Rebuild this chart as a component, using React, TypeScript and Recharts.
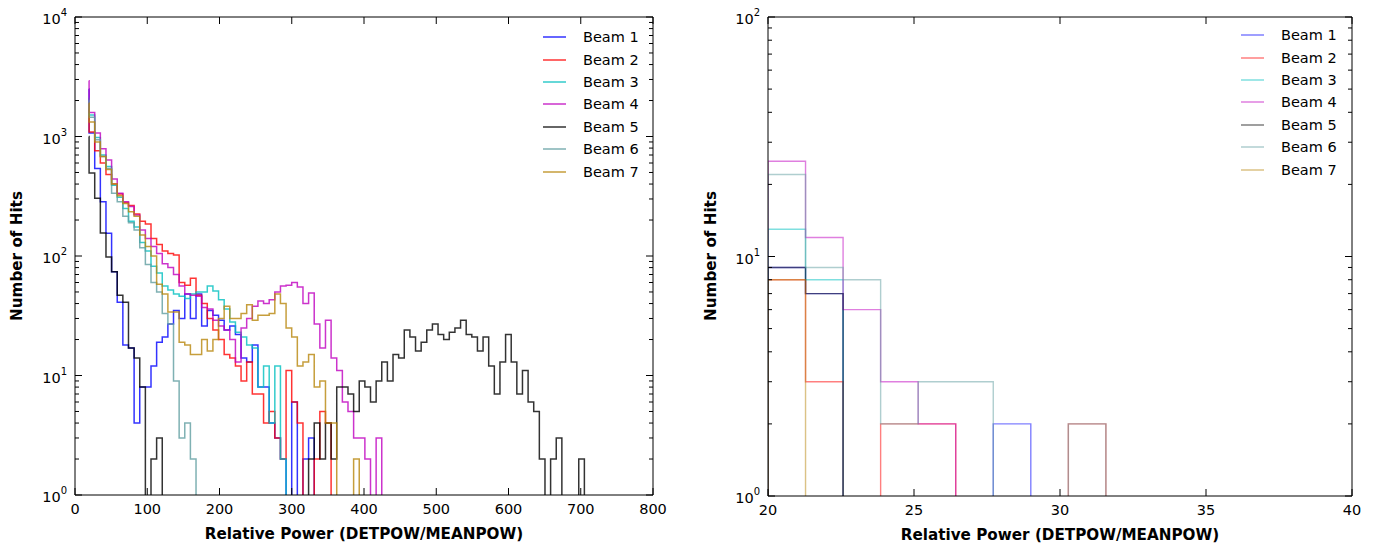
import React from 'react';
import { LineChart, Line, XAxis, YAxis, Legend } from 'recharts';

const FONT = '"DejaVu Sans", sans-serif';

const BEAMS = ['Beam 1', 'Beam 2', 'Beam 3', 'Beam 4', 'Beam 5', 'Beam 6', 'Beam 7'];
const COLORS = ['#0000ff', '#ff0000', '#00bfbf', '#bf00bf', '#000000', '#5f9ea0', '#b8860b'];

// ---- left panel: full range histogram ----
const LEFT_SPIKE_FROM = 19.1; // very narrow first bin
const LEFT_START = 19.5;
const LEFT_WIDTH = 7.79;
const LEFT_SPIKE = [2500, 1700, 2100, 2930, 1000, 2000, 1900];

const beam1 = [1070, 540, 285, 155, 74, 41, 18, 17, 4, 8, 8, 12, 19, 21, 27, 35, 30, 48, 30, 48,
  26, 35, 32, 29, 24, 26, 22, 14, 13, 18, 8, 8, 4, 3, 2, 0, 6, 0, 2, 3];
const beam2 = [1090, 760, 600, 480, 400, 330, 280, 265, 225, 195, 185, 140, 125, 110, 105, 102, 60, 57, 65, 47,
  40, 30, 24, 20, 15, 14, 12, 9, 13, 7, 7, 4, 5, 3, 2, 11, 6, 4, 0, 0, 2, 5, 4];
const beam3 = [1515, 980, 700, 560, 390, 310, 250, 195, 175, 130, 110, 82, 72, 56, 52, 48, 46, 44, 48, 50,
  50, 56, 51, 43, 36, 28, 23, 21, 18, 17, 8, 12, 4, 12, 2];
const beam4 = [1590, 1070, 790, 635, 440, 335, 285, 260, 220, 165, 140, 120, 105, 86, 80, 70, 56, 48, 47, 46,
  37, 36, 29, 26, 24, 20, 13, 25, 30, 38, 42, 40, 43, 50, 56, 57, 60, 55, 40, 49,
  27, 17, 29, 14, 11, 6, 5, 3, 3, 2, 0, 3];
const beam5 = [495, 304, 156, 98, 74, 47, 41, 17, 14, 8, 0, 2, 3, 0, 0, 0, 0, 0, 0, 0,
  0, 0, 0, 0, 0, 0, 0, 0, 0, 0, 0, 0, 0, 0, 0, 0, 0, 0, 0, 2,
  4, 2, 4, 2, 8, 8, 7, 5, 9, 8, 6, 9, 13, 9, 15, 14, 24, 21, 16, 19,
  24, 27, 22, 20, 23, 25, 29, 22, 21, 16, 21, 12, 7, 13, 22, 13, 7, 11, 6, 5,
  2, 0, 2, 3, 0, 0, 0, 2];
const beam6 = [1450, 940, 680, 540, 335, 285, 215, 190, 165, 117, 85, 60, 50, 33, 27, 9, 3, 4, 2];
const beam7 = [1325, 900, 680, 530, 400, 320, 275, 235, 215, 150, 120, 100, 58, 48, 34, 34, 19, 18, 15, 15,
  20, 16, 20, 30, 38, 30, 30, 33, 39, 29, 32, 32, 33, 48, 40, 25, 21, 12, 13, 15,
  8, 9, 4, 4, 0, 0, 0, 2];

const LEFT_X_TICKS = [0, 100, 200, 300, 400, 500, 600, 700, 800];
const LEFT_Y_TICKS = [1, 2, 3, 4, 5, 6, 7, 8, 9, 10, 20, 30, 40, 50, 60, 70, 80, 90,
  100, 200, 300, 400, 500, 600, 700, 800, 900, 1000, 2000, 3000, 4000, 5000, 6000, 7000, 8000, 9000, 10000];

// ---- right panel: low power range ----
const RIGHT_START = 20;
const RIGHT_WIDTH = 1.2857;

const low1 = [9, 7, 0, 0, 0, 0, 2];
const low2 = [8, 3, 0, 2, 2, 0, 0, 0, 2];
const low3 = [13, 8];
const low4 = [25, 12, 6, 3, 2];
const low5 = [9, 7];
const low6 = [22, 9, 8, 2, 3, 3, 0, 0, 2];
const low7 = [8];

const RIGHT_X_TICKS = [20, 25, 30, 35, 40];
const RIGHT_Y_TICKS = [1, 2, 3, 4, 5, 6, 7, 8, 9, 10, 20, 30, 40, 50, 60, 70, 80, 90, 100];

const FLOOR = 0.5; // empty bins fall below the log axis

function buildRows(series: number[][], start: number, width: number, spikeFrom?: number, spike?: number[]) {
  const keys = series.map((_, i) => `b${i + 1}`);
  const rows: any[] = [];
  if (spike && spikeFrom !== undefined) {
    const r: any = { x: spikeFrom };
    keys.forEach((k, i) => (r[k] = spike[i]));
    rows.push(r);
  } else {
    const first: any = { x: start };
    keys.forEach((k) => (first[k] = FLOOR));
    rows.push(first);
  }
  const n = Math.max(...series.map((s) => s.length));
  for (let j = 0; j <= n; j++) {
    const row: any = { x: start + j * width };
    series.forEach((s, i) => {
      if (j < s.length) row[keys[i]] = s[j] > 0 ? s[j] : FLOOR;
      else if (j === s.length) row[keys[i]] = FLOOR;
    });
    rows.push(row);
  }
  return rows;
}

const leftRows = buildRows([beam1, beam2, beam3, beam4, beam5, beam6, beam7], LEFT_START, LEFT_WIDTH, LEFT_SPIKE_FROM, LEFT_SPIKE);
const rightRows = buildRows([low1, low2, low3, low4, low5, low6, low7], RIGHT_START, RIGHT_WIDTH);

const isDecade = (v: number) => Math.abs(Math.log10(v) - Math.round(Math.log10(v))) < 1e-9;

const XTickBottom = ({ x, y, payload }: any) => (
  <g>
    <line x1={x} x2={x} y1={y} y2={y - 7} stroke="#000" />
    <text x={x} y={y + 19} textAnchor="middle" fontSize={14.5} fontFamily={FONT} fill="#000">
      {payload.value}
    </text>
  </g>
);

const XTickTop = ({ x, y }: any) => <line x1={x} x2={x} y1={y} y2={y + 7} stroke="#000" />;

const YTickLeft = ({ x, y, payload }: any) => {
  const major = isDecade(payload.value);
  return (
    <g>
      <line x1={x} x2={x + (major ? 7 : 4)} y1={y} y2={y} stroke="#000" />
      {major && (
        <text x={x - 8} y={y + 7} textAnchor="end" fontSize={14.5} fontFamily={FONT} fill="#000">
          <tspan>10</tspan>
          <tspan dy={-8} fontSize={10}>{Math.round(Math.log10(payload.value))}</tspan>
        </text>
      )}
    </g>
  );
};

const YTickRight = ({ x, y, payload }: any) => {
  const major = isDecade(payload.value);
  return <line x1={x} x2={x - (major ? 7 : 4)} y1={y} y2={y} stroke="#000" />;
};

const makeLegend = (opacity: number) => (props: any) => (
  <div style={{ fontFamily: FONT, fontSize: 14.5, color: '#000' }}>
    {(props.payload || []).map((entry: any) => (
      <div key={entry.value} style={{ height: 22.4, display: 'flex', alignItems: 'center' }}>
        <svg width={23} height={4}>
          <line x1={0} x2={23} y1={2} y2={2} stroke={entry.color} strokeOpacity={opacity} strokeWidth={1.5} />
        </svg>
        <span style={{ marginLeft: 17, whiteSpace: 'nowrap' }}>{entry.value}</span>
      </div>
    ))}
  </div>
);

interface PanelProps {
  rows: any[];
  width: number;
  height: number;
  margin: { top: number; right: number; bottom: number; left: number };
  yWidth: number;
  xHeight: number;
  xDomain: [number, number];
  xTicks: number[];
  yDomain: [number, number];
  yTicks: number[];
  opacity: number;
  strokeWidth: number;
  legendLeft: number;
  legendTop: number;
}

function HistPanel(p: PanelProps) {
  return (
    <LineChart width={p.width} height={p.height} data={p.rows} margin={p.margin}>
      <XAxis xAxisId="bottom" dataKey="x" type="number" domain={p.xDomain} ticks={p.xTicks}
        allowDataOverflow interval={0} tickSize={0} tickMargin={0} tick={XTickBottom}
        tickLine={false} axisLine={{ stroke: '#000' }} height={p.xHeight} />
      <XAxis xAxisId="top" orientation="top" dataKey="x" type="number" domain={p.xDomain} ticks={p.xTicks}
        allowDataOverflow interval={0} tickSize={0} tickMargin={0} tick={XTickTop}
        tickLine={false} axisLine={{ stroke: '#000' }} height={1} />
      <YAxis yAxisId="left" type="number" scale="log" domain={p.yDomain} ticks={p.yTicks}
        allowDataOverflow interval={0} tickSize={0} tickMargin={0} tick={YTickLeft}
        tickLine={false} axisLine={{ stroke: '#000' }} width={p.yWidth} />
      <YAxis yAxisId="right" orientation="right" type="number" scale="log" domain={p.yDomain} ticks={p.yTicks}
        allowDataOverflow interval={0} tickSize={0} tickMargin={0} tick={YTickRight}
        tickLine={false} axisLine={{ stroke: '#000' }} width={1} />
      <Legend layout="vertical" align="center" verticalAlign="middle"
        wrapperStyle={{ left: p.legendLeft, top: p.legendTop, width: 'auto' }}
        content={makeLegend(p.opacity)} />
      {BEAMS.map((name, i) => (
        <Line key={name} xAxisId="bottom" yAxisId="left" type="stepAfter" dataKey={`b${i + 1}`} name={name}
          stroke={COLORS[i]} strokeOpacity={p.opacity} strokeWidth={p.strokeWidth}
          dot={false} activeDot={false} isAnimationActive={false} />
      ))}
    </LineChart>
  );
}

const titleStyle: React.CSSProperties = {
  position: 'absolute',
  fontFamily: FONT,
  fontWeight: 'bold',
  fontSize: 15.2,
  whiteSpace: 'nowrap',
  color: '#000',
};

export default function App() {
  return (
    <div style={{ position: 'absolute', left: 0, top: 0, width: 1385, height: 547, background: '#fff' }}>
      <div style={{ position: 'absolute', left: 0, top: 0 }}>
        <HistPanel rows={leftRows} width={700} height={547}
          margin={{ top: 16, right: 46, bottom: 0, left: 0 }} yWidth={75} xHeight={52}
          xDomain={[0, 800]} xTicks={LEFT_X_TICKS} yDomain={[1, 10000]} yTicks={LEFT_Y_TICKS}
          opacity={0.8} strokeWidth={1.5} legendLeft={543} legendTop={26} />
      </div>
      <div style={{ position: 'absolute', left: 700, top: 0 }}>
        <HistPanel rows={rightRows} width={685} height={547}
          margin={{ top: 16, right: 32, bottom: 0, left: 0 }} yWidth={68} xHeight={51}
          xDomain={[20, 40]} xTicks={RIGHT_X_TICKS} yDomain={[1, 100]} yTicks={RIGHT_Y_TICKS}
          opacity={0.5} strokeWidth={1.4} legendLeft={541} legendTop={24} />
      </div>
      <div style={{ ...titleStyle, left: 17, top: 256, transform: 'translate(-50%, -50%) rotate(-90deg)' }}>Number of Hits</div>
      <div style={{ ...titleStyle, left: 364, top: 534, transform: 'translate(-50%, -50%)' }}>Relative Power (DETPOW/MEANPOW)</div>
      <div style={{ ...titleStyle, left: 711, top: 256, transform: 'translate(-50%, -50%) rotate(-90deg)' }}>Number of Hits</div>
      <div style={{ ...titleStyle, left: 1060, top: 535, transform: 'translate(-50%, -50%)' }}>Relative Power (DETPOW/MEANPOW)</div>
    </div>
  );
}
